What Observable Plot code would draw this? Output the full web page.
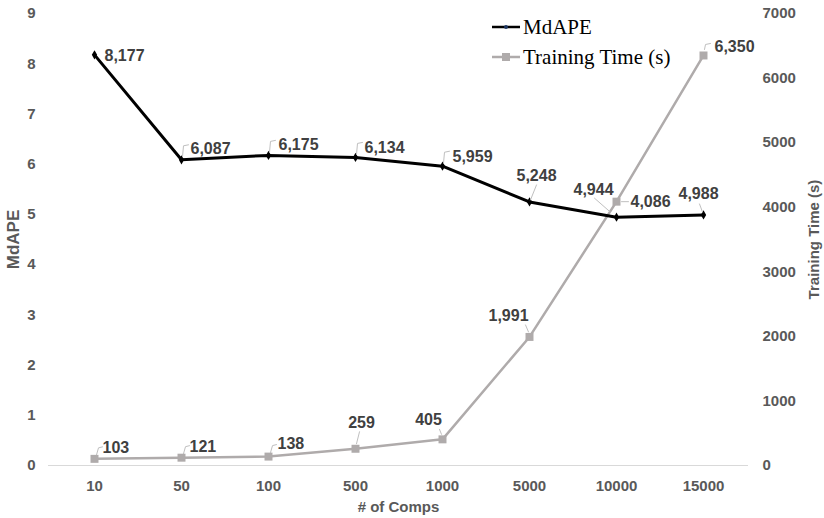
<!DOCTYPE html>
<html><head><meta charset="utf-8">
<script src="https://cdn.jsdelivr.net/npm/d3@7"></script>
<script src="https://cdn.jsdelivr.net/npm/@observablehq/plot@0.6"></script>
<style>
body{margin:0;background:#fff;}
#wrap{position:relative;width:824px;height:518px;}
#legend{position:absolute;left:492px;top:12px;font-family:"Liberation Serif","Times New Roman",serif;font-size:21px;color:#000;line-height:30px;}
#legend .row{display:flex;align-items:center;height:30px;}
#legend svg{margin-right:3px;}
</style></head><body><div id="wrap"><div id="legend"></div></div>
<script>
// ---- data ----
const comps = ["10","50","100","500","1000","5000","10000","15000"];
const mdape = [8.177,6.087,6.175,6.134,5.959,5.248,4.944,4.988];
const trainTime = [103,121,138,259,405,1991,4086,6350];
const mdapeTicks = [0,1,2,3,4,5,6,7,8,9];
const timeTicks = [0,1000,2000,3000,4000,5000,6000,7000];
const seriesNames = ["MdAPE","Training Time (s)"];

// ---- layout of data labels (pixel offsets from the point) ----
const hook = [[1,-3],[2,-14],[7,-15]];
const mdapeLabelLayout = [
  {dx:10, dy:1, a:"start", lead:null},
  {dx:9, dy:-11, a:"start", lead:hook},
  {dx:10, dy:-11, a:"start", lead:hook},
  {dx:9, dy:-10, a:"start", lead:hook},
  {dx:10, dy:-9, a:"start", lead:hook},
  {dx:7, dy:-26, a:"middle", lead:[[1,-2],[7,-17]]},
  {dx:-23, dy:-27, a:"middle", lead:[[-6,-5],[-22,-19]]},
  {dx:-5, dy:-21, a:"middle", lead:[[-1,-3],[-4,-11]]}
];
const timeHook = [[2,-4],[4,-11],[8,-12]];
const timeLabelLayout = [
  {dx:8, dy:-11, a:"start", lead:timeHook},
  {dx:8, dy:-11, a:"start", lead:timeHook},
  {dx:9, dy:-13, a:"start", lead:timeHook},
  {dx:6, dy:-26, a:"middle", lead:[[1,-5],[4,-17]]},
  {dx:-14, dy:-19, a:"middle", lead:[[-1,-5],[-3,-10]]},
  {dx:-21, dy:-21, a:"middle", lead:[[-1,-5],[-4,-12]]},
  {dx:14, dy:0, a:"start", lead:[[5,0],[12,0]]},
  {dx:11, dy:-9, a:"start", lead:[[1,-6],[2,-11],[7,-12]]}
];

const k = 9 / 7000; // right axis (time) -> left axis (MdAPE) units
const rows = comps.map((c, i) => ({comp: c, mdape: mdape[i], time: trainTime[i]}));
const fmtM = v => v.toFixed(3).replace(".", ",");
const fmtT = d3.format(",");

const black = "#000000", grayLine = "#afabab", labelColor = "#404040", leadColor = "#bfbfbf";

function leaderMark(row, yval, pts) {
  return Plot.vector([row], {
    x: "comp", y: yval, length: 1, rotate: 0, anchor: "start",
    stroke: leadColor, strokeWidth: 1, fill: "none",
    shape: {draw(ctx) { ctx.moveTo(pts[0][0], pts[0][1]); for (let j = 1; j < pts.length; j++) ctx.lineTo(pts[j][0], pts[j][1]); }}
  });
}

const labelMarks = [];
rows.forEach((r, i) => {
  const lm = mdapeLabelLayout[i], lt = timeLabelLayout[i];
  const yt = d => d.time * k;
  if (lm.lead) labelMarks.push(leaderMark(r, "mdape", lm.lead));
  if (lt.lead) labelMarks.push(leaderMark(r, yt, lt.lead));
  labelMarks.push(Plot.text([r], {x: "comp", y: "mdape", text: d => fmtM(d.mdape), dx: lm.dx, dy: lm.dy, textAnchor: lm.a,
    fill: labelColor, fontSize: 16, fontWeight: "bold"}));
  labelMarks.push(Plot.text([r], {x: "comp", y: yt, text: d => fmtT(d.time), dx: lt.dx, dy: lt.dy, textAnchor: lt.a,
    fill: labelColor, fontSize: 16, fontWeight: "bold"}));
});

const chart = Plot.plot({
  width: 824, height: 518,
  marginLeft: 48, marginRight: 76, marginTop: 13, marginBottom: 53,
  style: {fontFamily: "'Liberation Sans', Arial, sans-serif", fontSize: "15px", fontWeight: "bold", color: "#595959", background: "#fff"},
  x: {type: "point", domain: comps, padding: 0.5},
  y: {domain: [0, 9]},
  marks: [
    Plot.ruleY([0], {stroke: "#d9d9d9", strokeWidth: 1}),
    Plot.axisY({anchor: "left", ticks: mdapeTicks, tickSize: 0, tickPadding: 13, label: null}),
    Plot.axisY({anchor: "left", ticks: [], label: "MdAPE", labelAnchor: "center", labelOffset: 42, labelArrow: "none", fontSize: 17}),
    Plot.axisY({anchor: "right", ticks: timeTicks.map(t => t * k), tickFormat: v => String(Math.round(v / k)), tickSize: 0, tickPadding: 14, textAnchor: "start",
      label: "Training Time (s)", labelAnchor: "center", labelOffset: 70, labelArrow: "none"}),
    Plot.axisX({tickSize: 0, tickPadding: 15, label: "# of Comps", labelAnchor: "center", labelOffset: 46, labelArrow: "none"}),
    Plot.line(rows, {x: "comp", y: d => d.time * k, stroke: grayLine, strokeWidth: 2.5}),
    Plot.line(rows, {x: "comp", y: "mdape", stroke: black, strokeWidth: 3}),
    Plot.dot(rows, {x: "comp", y: d => d.time * k, symbol: "square", r: 4.5, fill: grayLine}),
    Plot.dot(rows, {x: "comp", y: "mdape", symbol: "diamond", r: 2.8, fill: black}),
    ...labelMarks
  ]
});
document.getElementById("wrap").prepend(chart);

// legend
const legend = document.getElementById("legend");
const legendStyles = [
  {stroke: black, w: 2.5, mark: `<circle cx="14" cy="5" r="2" fill="#1f3864"/>`},
  {stroke: grayLine, w: 2.5, mark: `<rect x="10" y="1" width="8" height="8" fill="${grayLine}"/>`}
];
seriesNames.forEach((name, i) => {
  const s = legendStyles[i];
  const row = document.createElement("div");
  row.className = "row";
  row.innerHTML = `<svg width="28" height="10"><line x1="0" y1="5" x2="28" y2="5" stroke="${s.stroke}" stroke-width="${s.w}"/>${s.mark}</svg><span>${name}</span>`;
  legend.appendChild(row);
});
</script>
</body></html>
